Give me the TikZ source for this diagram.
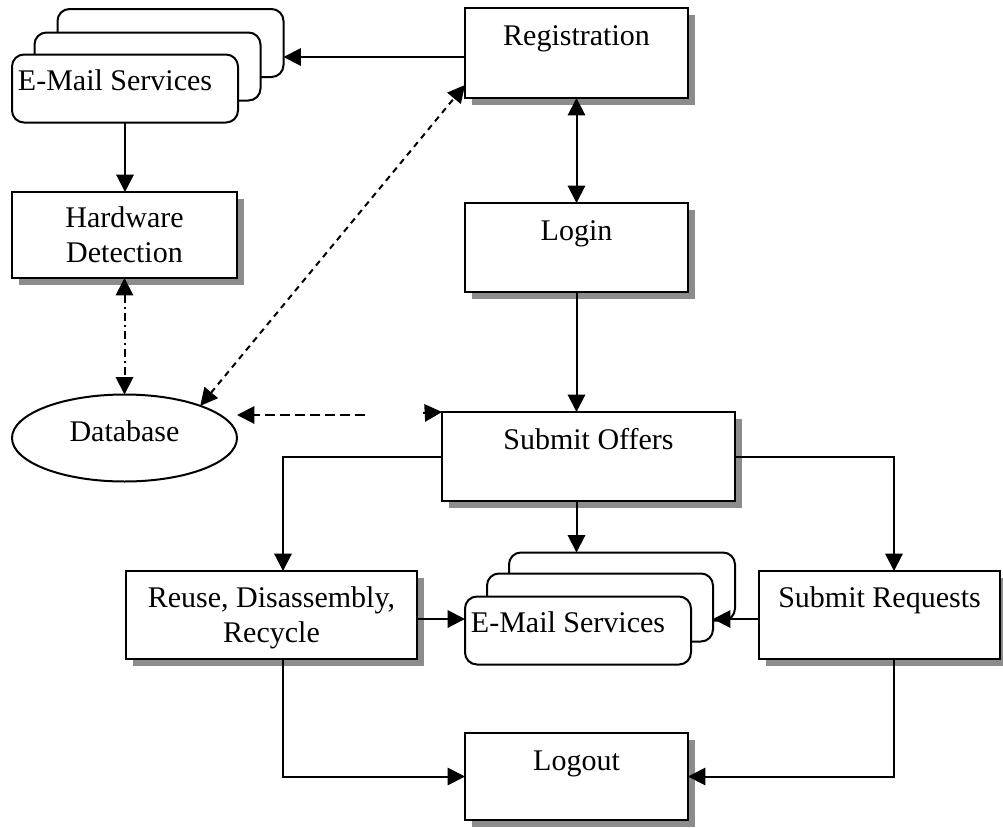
\documentclass[tikz,border=0pt]{standalone}
\usepackage{fontspec}
\setmainfont{Liberation Serif}
\usetikzlibrary{arrows.meta,shadows,shapes.geometric,calc}
\def\PX{0.75pt}
\begin{document}
\begin{tikzpicture}[x=0.75pt,y=-0.75pt,
  every node/.style={font=\fontsize{22.5pt}{26.25pt}\selectfont},
  box/.style={draw, line width=1.5pt, fill=white, inner sep=0pt, outer sep=0pt,
    drop shadow={shadow xshift=5.25pt, shadow yshift=-5.25pt, fill=black!45, opacity=1},
    align=center, text height=37*\PX},
  layer/.style={draw, line width=1.5pt, fill=white, rounded corners=9pt, inner sep=0pt, outer sep=0pt,
    minimum width=226*\PX, minimum height=68*\PX, text height=36*\PX, text depth=32*\PX},
  arr/.style={line width=1.5pt, -{Triangle[length=13pt,width=13pt]}},
  darr/.style={line width=1.5pt, {Triangle[length=13pt,width=13pt]}-{Triangle[length=13pt,width=13pt]}},
  dashdotline/.style={dash pattern=on 6pt off 3pt on 1.5pt off 3pt},
  diagdash/.style={dash pattern=on 4.5pt off 3.75pt},
  hordash/.style={dash pattern=on 7.5pt off 3.75pt}
]
\fill[white] (0,0) rectangle (1003,828);
\useasboundingbox (0,0) rectangle (1003,828);

% top-left e-mail stack
\node[layer] (em1b) at (170.5,43) {};
\node[layer] (em1m) at (147.5,66.5) {};
\node[layer] (em1f) at (125,88.5) {E-Mail Services\hspace*{15pt}};

% boxes
\node[box, minimum width=223*\PX, minimum height=90*\PX, text depth=53*\PX] (reg) at (576.5,53) {Registration};
\node[box, minimum width=223*\PX, minimum height=89*\PX, text depth=52*\PX] (login) at (576.5,247.5) {Login};
\node[box, minimum width=225*\PX, minimum height=86*\PX, text height=70*\PX, text depth=16*\PX] (hw) at (124.5,235) {Hardware\\Detection};
\node[draw, ellipse, line width=1.5pt, fill=white, inner sep=0pt, outer sep=0pt,
  minimum width=225*\PX, minimum height=87*\PX, text height=20*\PX, text depth=14*\PX] (db) at (124.5,438) {Database};
\node[box, minimum width=293*\PX, minimum height=89*\PX, text depth=52*\PX] (so) at (588.5,456.5) {Submit Offers};
\node[box, minimum width=291*\PX, minimum height=88*\PX, text height=71*\PX, text depth=17*\PX] (reuse) at (271.5,615) {Reuse, Disassembly,\\Recycle};
\node[box, minimum width=241*\PX, minimum height=88*\PX, text height=36*\PX, text depth=52*\PX] (sr) at (879.5,615) {Submit Requests};
\node[box, minimum width=223*\PX, minimum height=87*\PX, text depth=50*\PX] (logout) at (576.5,776.5) {Logout};

% bottom e-mail stack
\node[layer] (em2b) at (622,586.5) {};
\node[layer] (em2m) at (600,607.5) {};
\node[layer] (em2f) at (578,630.5) {E-Mail Services\hspace*{15pt}};

% connectors
\draw[arr] ([yshift=-3pt]reg.west) -- ([yshift=-3pt]reg.west -| em1b.east);
\draw[arr] (em1f.south) -- (em1f.south |- hw.north);
\draw[darr, dashdotline] (hw.south) -- (db.north);
\draw[darr, diagdash] (db.23) -- (reg.196.5);
\coordinate (dbin) at (365,415);
\draw[arr, hordash] (dbin) -- ([yshift=17.25pt]db.east);
\coordinate (soin) at (423,413);
\draw[arr] (soin) -- (so.north west);
\draw[darr] (reg.south) -- (login.north);
\draw[arr] (login.south) -- (login.south |- so.north);
\draw[arr] (so.west) -| ([xshift=8.625pt]reuse.north);
\draw[arr] (so.east) -| ([xshift=10.875pt]sr.north);
\draw[arr] (login.south |- so.south) -- (login.south |- em2b.north);
\draw[arr] ([yshift=-3pt]reuse.east) -- ([yshift=-3pt]reuse.east -| em2f.west);
\draw[arr] ([yshift=-3pt]sr.west) -- ([yshift=-3pt]sr.west -| em2m.east);
\draw[arr] ([xshift=8.625pt]reuse.south) |- (logout.west);
\draw[arr] ([xshift=10.875pt]sr.south) |- (logout.east);
\end{tikzpicture}
\end{document}
